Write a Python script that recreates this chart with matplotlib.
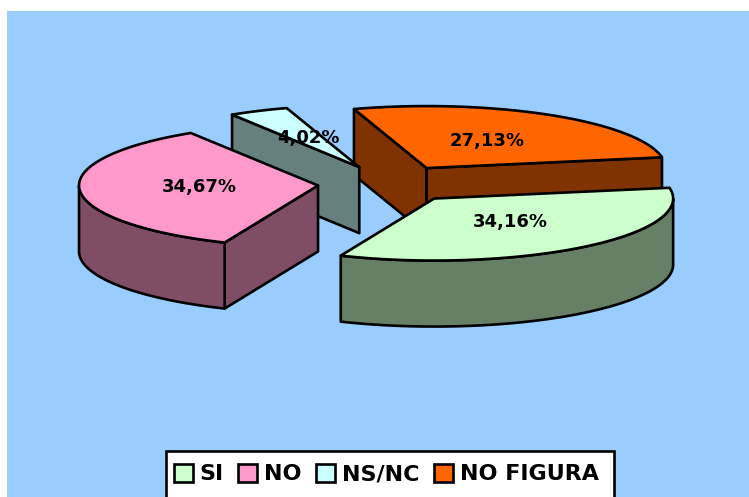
import numpy as np
import matplotlib
matplotlib.use("Agg")
import matplotlib.pyplot as plt
from matplotlib.patches import Polygon, Rectangle, Patch

# data
categories = ["SI", "NO", "NS/NC", "NO FIGURA"]
values = [34.16, 34.67, 4.02, 27.13]
top_colors = ["#CCFFCC", "#FF99CC", "#CCFFFF", "#FF6600"]
side_colors = ["#668066", "#804D66", "#668080", "#803300"]
labels = ["34,16%", "34,67%", "4,02%", "27,13%"]

# layout (pixel space)
W, H = 749, 497
CX, CY, RX, RY, DEPTH = 389.5, 184, 239, 62, 66
EXPLODE = 0.30
START = 10.0
LABEL_XY = [(510, 222), (199, 187), (308, 138), (487, 141)]
DRAW_ORDER = [3, 2, 1, 0]
LW = 1.9

fig = plt.figure(figsize=(W / 100, H / 100), dpi=100, facecolor="white")
ax = fig.add_axes([0, 0, 1, 1])
ax.set_xlim(0, W)
ax.set_ylim(H, 0)
ax.axis("off")
ax.add_patch(Rectangle((7, 11), W, H, facecolor="#99CCFF", edgecolor="none", zorder=0))


def pt(t, c):
    r = np.radians(t)
    return np.column_stack([c[0] + RX * np.cos(r), c[1] - RY * np.sin(r)])


def face(points, color, z):
    ax.add_patch(Polygon(points, closed=True, facecolor=color, edgecolor="black",
                         linewidth=LW, joinstyle="round", zorder=z))


# slice angles, clockwise from START
sweeps = np.array(values) / sum(values) * 360.0
ends = START - np.cumsum(sweeps)
starts = ends + sweeps

for order, i in enumerate(DRAW_ORDER):
    a0, a1 = starts[i], ends[i]
    mid = (a0 + a1) / 2
    rad = np.radians(mid)
    c = (CX + EXPLODE * RX * np.cos(rad), CY - EXPLODE * RY * np.sin(rad))
    z = 2 + order
    m = pt(np.array([mid]), c)[0]

    # radial side faces
    for a in (a0, a1):
        q = pt(np.array([a]), c)[0]
        slope = (q[1] - c[1]) / (q[0] - c[0])
        if m[1] < c[1] + slope * (m[0] - c[0]):
            face([c, q, (q[0], q[1] + DEPTH), (c[0], c[1] + DEPTH)], side_colors[i], z)

    # outer curved side
    ts = np.linspace(a0, a1, 200)
    ts = ts[np.sin(np.radians(ts)) <= 0]
    if len(ts) > 1:
        arc = pt(ts, c)
        low = arc[::-1] + np.array([0, DEPTH])
        face(np.vstack([arc, low]), side_colors[i], z)

    # top
    arc = pt(np.linspace(a0, a1, 200), c)
    face(np.vstack([[c], arc]), top_colors[i], z + 0.5)

for lab, (x, y) in zip(labels, LABEL_XY):
    ax.text(x, y, lab, ha="center", va="center", fontsize=13, fontweight="bold",
            color="black", zorder=10)

# legend frame runs off the bottom of the picture
ax.add_patch(Rectangle((166, 451), 448, 60, facecolor="white", edgecolor="black",
                       linewidth=LW, zorder=19))
handles = [Patch(facecolor=col, edgecolor="black", linewidth=LW) for col in top_colors]
leg = ax.legend(handles, categories, loc="upper left", bbox_to_anchor=(166, 456),
                bbox_transform=ax.transData, ncol=4, frameon=False,
                prop={"size": 16, "weight": "bold"}, borderpad=0.35, borderaxespad=0,
                handlelength=0.85, handleheight=0.85, handletextpad=0.32, columnspacing=0.65)
leg.set_zorder(20)

fig.savefig("out.png", dpi=100)
